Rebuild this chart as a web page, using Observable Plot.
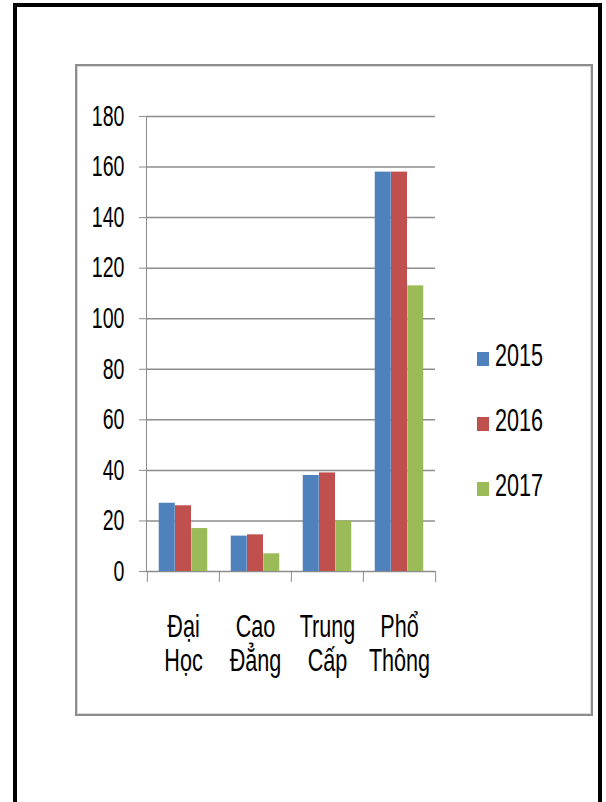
<!DOCTYPE html>
<html><head><meta charset="utf-8">
<script src="https://cdn.jsdelivr.net/npm/d3@7"></script>
<script src="https://cdn.jsdelivr.net/npm/@observablehq/plot@0.6"></script>
<style>
html,body{margin:0;padding:0;background:#fff;width:606px;height:802px;overflow:hidden;}
#page{position:relative;width:606px;height:802px;font-family:'Liberation Sans',Arial,sans-serif;}
#chart{position:absolute;left:0;top:0;}
#legend{position:absolute;left:0;top:0;overflow:visible;}
#outer{position:absolute;left:13px;top:3px;width:589px;height:900px;border:4px solid #000;border-bottom:none;box-sizing:border-box;}
#box{position:absolute;left:75px;top:64px;width:518px;height:652px;border:2px solid #8c8c8c;box-sizing:border-box;box-shadow:inset 0 0 0 1px #d9d9d9;}
</style></head>
<body><div id="page"><div id="chart"></div><svg id="legend" width="606" height="802"></svg><div id="outer"></div><div id="box"></div></div>
<script>
const categories = ["Đại Học", "Cao Đẳng", "Trung Cấp", "Phổ Thông"];
const years = ["2015", "2016", "2017"];
const values2015 = [27, 14, 38, 158];
const values2016 = [26, 14.5, 39, 158];
const values2017 = [17, 7, 20, 113];
const yTicks = [0, 20, 40, 60, 80, 100, 120, 140, 160, 180];
const colors = ["#4f81bd", "#c0504d", "#9bbb59"];

const series = [values2015, values2016, values2017];
const rows = years.flatMap((yr, i) => categories.map((c, j) => ({cat: c, year: yr, value: series[i][j]})));

const W = 606, H = 720, mL = 146, mR = 171, mT = 116, mB = 149;
const bw = (W - mL - mR) / categories.length;
const barW = 16.25;
const gray = "#8c8c8c";
const innerH = H - mT - mB;

const plot = Plot.plot({
  width: W, height: H, marginLeft: mL, marginRight: mR, marginTop: mT, marginBottom: mB,
  style: {background: "transparent", fontFamily: "'Liberation Sans', Arial, sans-serif", overflow: "visible"},
  x: {type: "band", domain: categories, padding: 0},
  y: {domain: [0, 180]},
  color: {domain: years, range: colors},
  marks: [
    Plot.ruleY(yTicks, {stroke: gray, strokeWidth: 1.5}),
    Plot.frame({anchor: "left", stroke: gray}),
    Plot.ruleX(categories, {dx: -bw / 2, insetTop: innerH, insetBottom: -11, stroke: gray}),
    Plot.ruleX(categories.slice(-1), {dx: bw / 2, insetTop: innerH, insetBottom: -11, stroke: gray}),
    ...years.map((yr, i) => Plot.barY(rows.filter(r => r.year === yr), {
      x: "cat", y: "value", fill: "year", dx: (i - 1) * barW,
      insetLeft: (bw - barW) / 2, insetRight: (bw - barW) / 2
    })),
    Plot.axisY({ticks: yTicks, tickSize: 7, tickPadding: 15, fontSize: 29, stroke: gray, fill: "#000", label: null}),
    Plot.axisX({tickSize: 0, tickPadding: 41, fontSize: 32, lineHeight: 1.07, tickFormat: d => d.replace(" ", "\n"), fill: "#000", label: null})
  ]
});
document.getElementById("chart").append(plot);

// legend
const lg = d3.select("#legend");
years.forEach((yr, i) => {
  const base = 366 + 65 * i;
  lg.append("rect").attr("x", 477).attr("y", base - 14).attr("width", 12).attr("height", 14).attr("fill", colors[i]);
  lg.append("text").attr("x", 495).attr("y", base).attr("font-size", 32)
    .attr("font-family", "'Liberation Sans', Arial, sans-serif").attr("fill", "#000").text(yr);
});

function squeeze(root, k) {
  root.querySelectorAll("text").forEach(t => {
    const sp = t.querySelectorAll("tspan");
    (sp.length ? [...sp] : [t]).forEach(e => {
      const L = e.getComputedTextLength();
      if (L > 0) { e.setAttribute("textLength", (L * k).toFixed(2)); e.setAttribute("lengthAdjust", "spacingAndGlyphs"); }
    });
  });
}
squeeze(plot, 0.675);
squeeze(document.getElementById("legend"), 0.675);
</script>
</body></html>
